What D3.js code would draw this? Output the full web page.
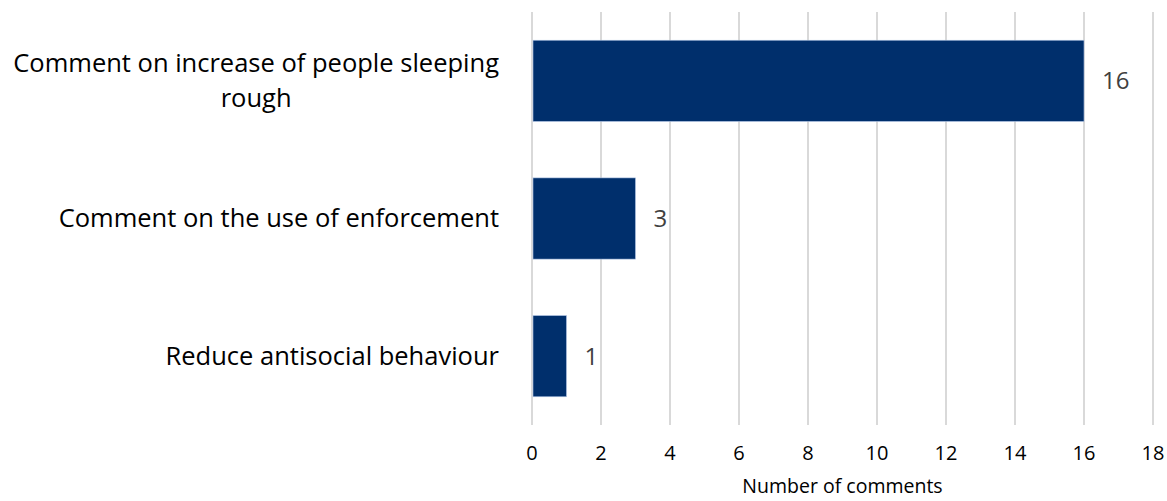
<!DOCTYPE html>
<html>
<head>
<meta charset="utf-8">
<script src="https://cdn.jsdelivr.net/npm/d3@7"></script>
<style>
  html, body { margin: 0; padding: 0; background: #fff; }
  svg { display: block; font-family: "Open Sans", "Noto Sans", sans-serif; }
</style>
</head>
<body>
<svg id="chart" width="1167" height="501"></svg>
<script>
// Comment themes and how many comments mentioned each
const categories = [
  "Comment on increase of people sleeping rough",
  "Comment on the use of enforcement",
  "Reduce antisocial behaviour"
];
const counts = [16, 3, 1];
const xTicks = [0, 2, 4, 6, 8, 10, 12, 14, 16, 18];
const xTitle = "Number of comments";
// Line breaks for long category labels
const labelLines = [
  ["Comment on increase of people sleeping", "rough"],
  ["Comment on the use of enforcement"],
  ["Reduce antisocial behaviour"]
];

const svg = d3.select("#chart");
const plot = { left: 532, right: 1153, top: 12, bottom: 425 };

const x = d3.scaleLinear().domain([0, 18]).range([plot.left, plot.right]);
const y = d3.scaleBand().domain(categories).range([plot.top, plot.bottom]).paddingInner(0.41).paddingOuter(0.205);

// Vertical gridlines
svg.append("g").selectAll("line").data(xTicks).join("line")
  .attr("x1", d => x(d)).attr("x2", d => x(d))
  .attr("y1", plot.top).attr("y2", plot.bottom)
  .attr("stroke", "#d9d9d9").attr("stroke-width", 2);

// Bars
svg.append("g").selectAll("rect").data(categories).join("rect")
  .attr("x", x(0) + 1)
  .attr("y", d => y(d))
  .attr("width", (d, i) => x(counts[i]) - x(0) - 1)
  .attr("height", y.bandwidth())
  .attr("fill", "#002f6c")
  .attr("stroke", "#b4c7e7").attr("stroke-width", 0.6);

// Value labels
svg.append("g").selectAll("text").data(categories).join("text")
  .attr("x", (d, i) => x(counts[i]) + 18)
  .attr("y", d => y(d) + y.bandwidth() / 2)
  .attr("dy", "0.35em")
  .attr("font-size", 24)
  .attr("fill", "#404040")
  .text((d, i) => counts[i]);

// Category labels (multi-line blocks centred, block right-aligned)
const labelRight = 499;
const lineH = 35;
const catG = svg.append("g");
categories.forEach((c, i) => {
  const lines = labelLines[i];
  const t = catG.append("text")
    .attr("font-size", 25.5)
    .attr("fill", "#000")
    .attr("text-anchor", "middle");
  const cy = y(c) + y.bandwidth() / 2;
  lines.forEach((ln, j) => {
    t.append("tspan").text(ln)
      .attr("y", cy + (j - (lines.length - 1) / 2) * lineH)
      .attr("dy", "0.35em");
  });
  let maxW = 0;
  t.selectAll("tspan").each(function () { maxW = Math.max(maxW, this.getComputedTextLength()); });
  t.selectAll("tspan").attr("x", labelRight - maxW / 2);
});

// Tick labels
svg.append("g").selectAll("text").data(xTicks).join("text")
  .attr("x", d => x(d))
  .attr("y", 453)
  .attr("dy", "0.35em")
  .attr("text-anchor", "middle")
  .attr("font-size", 20)
  .attr("fill", "#000")
  .text(d => d);

// Axis title
svg.append("text")
  .attr("x", (plot.left + plot.right) / 2)
  .attr("y", 486)
  .attr("dy", "0.35em")
  .attr("text-anchor", "middle")
  .attr("font-size", 19.5)
  .attr("fill", "#000")
  .text(xTitle);
</script>
</body>
</html>
